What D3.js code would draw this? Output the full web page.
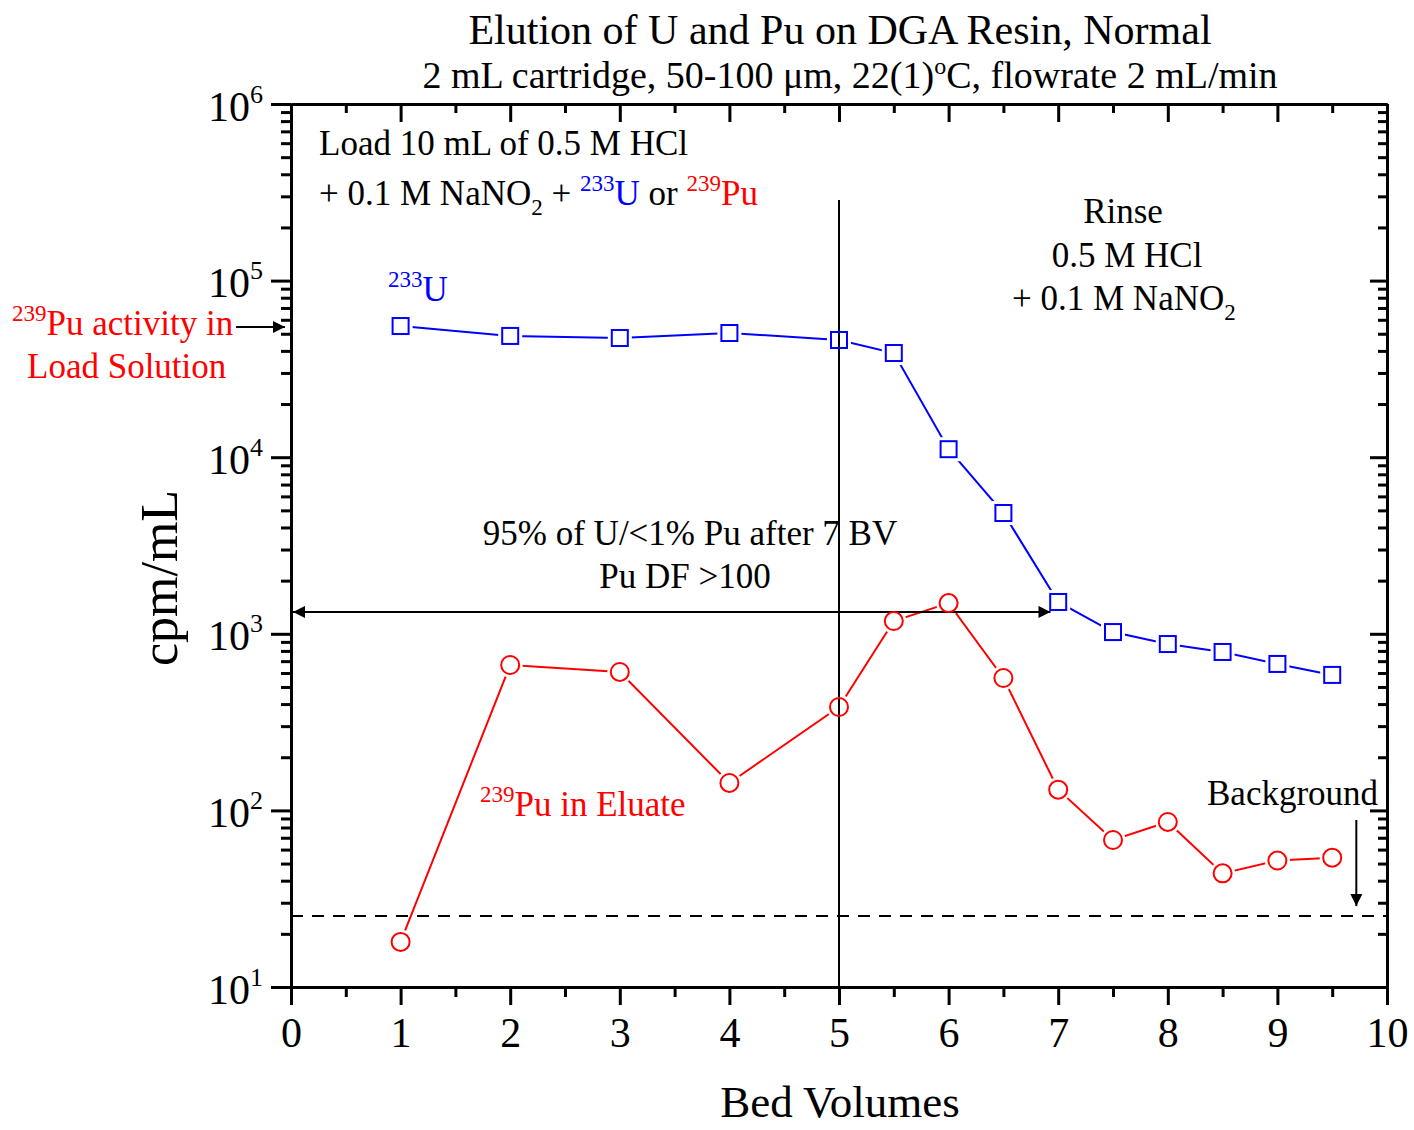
<!DOCTYPE html>
<html>
<head>
<meta charset="utf-8">
<script src="https://cdn.jsdelivr.net/npm/d3@7"></script>
<style>
  body { margin: 0; background: #fff; }
  text { font-family: "Liberation Serif", "Times New Roman", serif; }
</style>
</head>
<body>
<script>
const width  = 1414;
const height = 1130;

// data (cpm/mL vs bed volumes)
const bedVolumes = [1, 2, 3, 4, 5, 5.5, 6, 6.5, 7, 7.5, 8, 8.5, 9, 9.5];
const u233  = [55300, 48600, 47300, 50500, 46100, 38900, 11100, 4830, 1514, 1023, 875, 789, 675, 585];
const pu239 = [18, 666, 608, 143, 385, 1181, 1493, 562, 131, 68, 86, 44, 52, 54];
const background = 25.2;
const puLoad     = 54600;
const sepLevel   = 1330;
const sepEndBV   = 6.93;
const cutBV      = 5;
const cutTop     = 2.86e5;

const xTicks      = [0, 1, 2, 3, 4, 5, 6, 7, 8, 9, 10];
const xMinorTicks = [0.5, 1.5, 2.5, 3.5, 4.5, 5.5, 6.5, 7.5, 8.5, 9.5];
const yDecades    = [1, 2, 3, 4, 5, 6];

const plotLeft = 291, plotRight = 1387, plotTop = 104, plotBottom = 987;

const x = d3.scaleLinear().domain([0, 10]).range([plotLeft, plotRight]);
const y = d3.scaleLog().domain([10, 1e6]).range([plotBottom, plotTop]);

const yMinor = [];
yDecades.slice(0, -1).forEach(e => {
  for (let m = 2; m <= 9; m++) yMinor.push(m * Math.pow(10, e));
});

const svg = d3.select('body').append('svg')
  .attr('width', width)
  .attr('height', height);

svg.append('defs').append('marker')
  .attr('id', 'head')
  .attr('viewBox', '0 0 10 10')
  .attr('refX', 10).attr('refY', 5)
  .attr('markerWidth', 12).attr('markerHeight', 6)
  .attr('markerUnits', 'strokeWidth')
  .attr('orient', 'auto-start-reverse')
  .append('path').attr('d', 'M0,0 L10,5 L0,10 Z').attr('fill', '#000');

// axes
const axisStyle = g => {
  g.select('.domain').attr('stroke-width', 3);
  g.selectAll('.tick line').attr('stroke-width', 3);
};

const noLabel = () => '';

svg.append('g').attr('transform', `translate(0,${plotBottom})`)
  .call(d3.axisBottom(x).tickValues(xMinorTicks).tickSize(10).tickSizeOuter(0).tickFormat(noLabel))
  .call(axisStyle);
svg.append('g').attr('transform', `translate(0,${plotBottom})`)
  .call(d3.axisBottom(x).tickValues(xTicks).tickSize(18).tickSizeOuter(0).tickFormat(d3.format('d')))
  .call(axisStyle)
  .call(g => g.selectAll('.tick text')
    .attr('y', 30).attr('dy', '0.71em')
    .attr('font-size', 42).attr('fill', '#000')
    .style('font-family', '"Liberation Serif", serif'));

svg.append('g').attr('transform', `translate(0,${plotTop})`)
  .call(d3.axisTop(x).tickValues(xMinorTicks).tickSize(-9).tickSizeOuter(0).tickFormat(noLabel))
  .call(axisStyle);
svg.append('g').attr('transform', `translate(0,${plotTop})`)
  .call(d3.axisTop(x).tickValues(xTicks).tickSize(-18).tickSizeOuter(0).tickFormat(noLabel))
  .call(axisStyle);

svg.append('g').attr('transform', `translate(${plotLeft},0)`)
  .call(d3.axisLeft(y).tickValues(yMinor).tickSize(10).tickSizeOuter(0).tickFormat(noLabel))
  .call(axisStyle);
const yAxis = svg.append('g').attr('transform', `translate(${plotLeft},0)`)
  .call(d3.axisLeft(y).tickValues(yDecades.map(e => Math.pow(10, e))).tickSize(20).tickSizeOuter(0).tickFormat(noLabel))
  .call(axisStyle);

yAxis.selectAll('.tick').each(function(d) {
  const t = d3.select(this).append('text')
    .attr('x', -28).attr('y', 16)
    .attr('text-anchor', 'end')
    .attr('fill', '#000')
    .attr('font-size', 42)
    .style('font-family', '"Liberation Serif", serif');
  t.append('tspan').text('10');
  t.append('tspan').attr('dy', -18).attr('font-size', 26).text(Math.round(Math.log10(d)));
});

svg.append('g').attr('transform', `translate(${plotRight},0)`)
  .call(d3.axisRight(y).tickValues(yMinor).tickSize(-9).tickSizeOuter(0).tickFormat(noLabel))
  .call(axisStyle);
svg.append('g').attr('transform', `translate(${plotRight},0)`)
  .call(d3.axisRight(y).tickValues(yDecades.map(e => Math.pow(10, e))).tickSize(-17).tickSizeOuter(0).tickFormat(noLabel))
  .call(axisStyle);

// series
const lineGen = d3.line().x(d => x(d[0])).y(d => y(d[1]));
const uData  = bedVolumes.map((b, i) => [b, u233[i]]);
const puData = bedVolumes.map((b, i) => [b, pu239[i]]);

svg.append('path').datum(uData).attr('d', lineGen)
  .attr('fill', 'none').attr('stroke', '#0000ff').attr('stroke-width', 2);
svg.append('path').datum(puData).attr('d', lineGen)
  .attr('fill', 'none').attr('stroke', '#ff0000').attr('stroke-width', 2);

// white gaps round the markers
svg.selectAll('.uhalo').data(uData).enter().append('rect')
  .attr('x', d => x(d[0]) - 12).attr('y', d => y(d[1]) - 12)
  .attr('width', 24).attr('height', 24).attr('fill', '#fff');
svg.selectAll('.puhalo').data(puData).enter().append('circle')
  .attr('cx', d => x(d[0])).attr('cy', d => y(d[1])).attr('r', 12.5).attr('fill', '#fff');

// reference lines
svg.append('line')
  .attr('x1', x(0)).attr('x2', x(10))
  .attr('y1', y(background)).attr('y2', y(background))
  .attr('stroke', '#000').attr('stroke-width', 2).attr('stroke-dasharray', '12,9');
svg.append('line')
  .attr('x1', x(cutBV)).attr('x2', x(cutBV))
  .attr('y1', y(cutTop)).attr('y2', plotBottom)
  .attr('stroke', '#000').attr('stroke-width', 2);
svg.append('line')
  .attr('x1', x(0) + 2).attr('x2', x(sepEndBV))
  .attr('y1', y(sepLevel)).attr('y2', y(sepLevel))
  .attr('stroke', '#000').attr('stroke-width', 2)
  .attr('marker-start', 'url(#head)').attr('marker-end', 'url(#head)');

svg.selectAll('.usq').data(uData).enter().append('rect')
  .attr('x', d => x(d[0]) - 8).attr('y', d => y(d[1]) - 8)
  .attr('width', 16).attr('height', 16)
  .attr('fill', 'none').attr('stroke', '#0000ff').attr('stroke-width', 2);
svg.selectAll('.pucirc').data(puData).enter().append('circle')
  .attr('cx', d => x(d[0])).attr('cy', d => y(d[1])).attr('r', 9)
  .attr('fill', 'none').attr('stroke', '#ff0000').attr('stroke-width', 2);

// arrows outside / near the frame
svg.append('line')
  .attr('x1', 236).attr('x2', plotLeft - 6)
  .attr('y1', y(puLoad)).attr('y2', y(puLoad))
  .attr('stroke', '#000').attr('stroke-width', 2).attr('marker-end', 'url(#head)');
svg.append('line')
  .attr('x1', x(9.72)).attr('x2', x(9.72))
  .attr('y1', 820).attr('y2', y(background) - 10)
  .attr('stroke', '#000').attr('stroke-width', 2).attr('marker-end', 'url(#head)');

// text helpers
const label = (xp, yp, parts, opts = {}) => {
  const t = svg.append('text')
    .attr('x', xp).attr('y', yp)
    .attr('font-size', opts.size || 35)
    .attr('fill', opts.fill || '#000')
    .attr('text-anchor', opts.anchor || 'start');
  parts.forEach(p => {
    const s = t.append('tspan').text(p.t).attr('fill', p.c || null);
    if (p.sup) s.attr('font-size', p.size || 23).attr('dy', -14);
    if (p.sub) s.attr('font-size', p.size || 23).attr('dy', 10);
    if (p.back) s.attr('dy', p.back);
  });
  return t;
};

label(840, 44, [{t: 'Elution of U and Pu on DGA Resin, Normal'}], {size: 42, anchor: 'middle'});
label(850, 88, [{t: '2 mL cartridge, 50-100 \u03bcm, 22(1)'}, {t: 'o', sup: true, size: 24},
  {t: 'C, flowrate 2 mL/min', back: 14}], {size: 38, anchor: 'middle'});

label(840, 1117, [{t: 'Bed Volumes'}], {size: 45, anchor: 'middle'});
svg.append('text')
  .attr('transform', 'translate(177,578) rotate(-90)')
  .attr('text-anchor', 'middle').attr('font-size', 52).attr('fill', '#000')
  .text('cpm/mL');

label(319, 155, [{t: 'Load 10 mL of 0.5 M HCl'}]);
label(319, 205, [{t: '+ 0.1 M NaNO'}, {t: '2', sub: true}, {t: ' + ', back: -10},
  {t: '233', sup: true, c: '#0000ff'}, {t: 'U', c: '#0000ff', back: 14}, {t: ' or '},
  {t: '239', sup: true, c: '#ff0000'}, {t: 'Pu', c: '#ff0000', back: 14}]);

label(1123, 223, [{t: 'Rinse'}], {anchor: 'middle'});
label(1127, 267, [{t: '0.5 M HCl'}], {anchor: 'middle'});
label(1012, 310, [{t: '+ 0.1 M NaNO'}, {t: '2', sub: true}]);

label(388, 301, [{t: '233', sup: true}, {t: 'U', back: 14}], {fill: '#0000ff'});
label(12, 335, [{t: '239', sup: true}, {t: 'Pu activity in', back: 14}], {fill: '#ff0000'});
label(27, 378, [{t: 'Load Solution'}], {fill: '#ff0000'});

label(690, 545, [{t: '95% of U/<1% Pu after 7 BV'}], {anchor: 'middle'});
label(685, 588, [{t: 'Pu DF >100'}], {anchor: 'middle'});
label(480, 816, [{t: '239', sup: true}, {t: 'Pu in Eluate', back: 14}], {fill: '#ff0000'});
label(1207, 805, [{t: 'Background'}]);
</script>
</body>
</html>
